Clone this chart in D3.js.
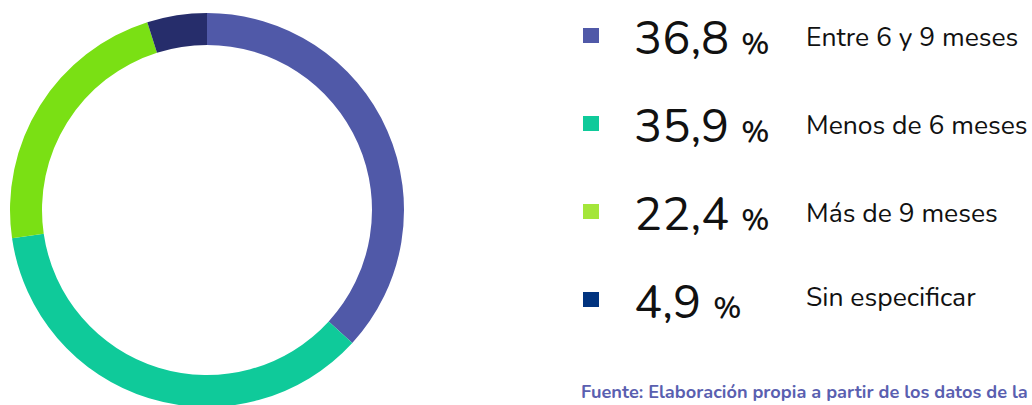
<!DOCTYPE html>
<html>
<head>
<meta charset="utf-8">
<script src="https://cdn.jsdelivr.net/npm/d3@7"></script>
<style>
  html,body{margin:0;padding:0;background:#fff;overflow:hidden;}
  text{font-family:'Nunito','Lato','Noto Sans',sans-serif;}
</style>
</head>
<body>
<script>
// datos
var categorias=['Entre 6 y 9 meses','Menos de 6 meses','Más de 9 meses','Sin especificar'];
var valores=[36.8,35.9,22.4,4.9];
var coloresAnillo=['#5059a8','#0fca9a','#7ae014','#262d6b'];
var coloresLeyenda=['#5059a8','#0fca9a','#a4e63a','#00337f'];
var fuente='Fuente: Elaboración propia a partir de los datos de la';

var W=1032,H=405;
var svg=d3.select('body').append('svg').attr('width',W).attr('height',H);

var cx=207,cy=210,rOut=197,rIn=165;
var pie=d3.pie().sort(null).value(function(d){return d;});
var arc=d3.arc().innerRadius(rIn).outerRadius(rOut);
var g=svg.append('g').attr('transform','translate('+cx+','+cy+')');
g.selectAll('path')
    .data(pie(valores))
    .enter()
    .append('path')
    .attr('d',arc)
    .attr('fill',function(d,i){return coloresAnillo[i];});

// leyenda
var rowY=d3.scalePoint().domain(d3.range(categorias.length)).range([54,318]);
var fmt=function(v){return d3.format('.1f')(v).replace('.',',');};
var leg=svg.selectAll('g.fila')
    .data(categorias)
    .enter()
    .append('g')
    .attr('class','fila')
    .attr('transform',function(d,i){return 'translate(0,'+rowY(i)+')';});
leg.append('rect')
    .attr('x',583).attr('y',-26)
    .attr('width',16).attr('height',15)
    .attr('fill',function(d,i){return coloresLeyenda[i];});
var num=leg.append('text')
    .attr('x',634).attr('y',0)
    .attr('fill','#111');
num.append('tspan')
    .style('font-size','47px')
    .text(function(d,i){return fmt(valores[i]);});
num.append('tspan')
    .style('font-size','30px')
    .style('font-weight','600')
    .attr('dx',12)
    .text('%');
leg.append('text')
    .attr('x',806)
    .attr('y',function(d,i){return i==3?-12:-8;})
    .attr('fill','#111')
    .style('font-size','26.5px')
    .text(function(d){return d;});

svg.append('text')
    .attr('x',581).attr('y',398)
    .attr('fill','#5a5fb0')
    .style('font-size','18.2px')
    .style('font-weight','bold')
    .text(fuente);
</script>
</body>
</html>
